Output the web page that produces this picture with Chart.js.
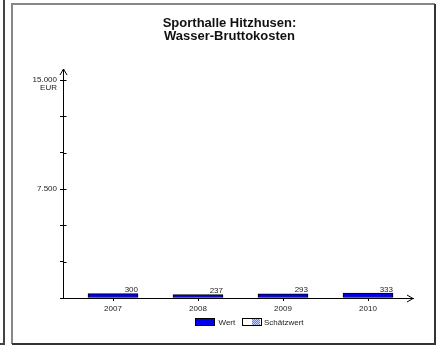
<!DOCTYPE html>
<html>
<head>
<meta charset="utf-8">
<script src="https://cdn.jsdelivr.net/npm/chart.js@4"></script>
<style>
  html, body { margin: 0; padding: 0; background: #fff; }
  canvas { display: block; }
</style>
</head>
<body>
<canvas id="chart" width="437" height="345"></canvas>
<script>
// Daten
const categories = ["2007", "2008", "2009", "2010"];
const values = [300, 237, 293, 333];
const yTicks = [0, 2500, 5000, 7500, 10000, 12500, 15000];
const yLabelled = [7500, 15000];
const yUnit = "EUR";
const titleLines = ["Sporthalle Hitzhusen:", "Wasser-Bruttokosten"];
const legendLabels = ["Wert", "Schätzwert"];

const FONT = '"Liberation Sans", Arial, sans-serif';
const BLUE = "#0000ee";

// deutsche Tausenderpunkte
const fmt = (n) => String(n).replace(/\B(?=(\d{3})+(?!\d))/g, ".");

// Rahmen, Pfeile, Titel, Werte und Legende
const extras = {
  id: "extras",
  beforeDraw(chart) {
    const ctx = chart.ctx;
    ctx.save();
    ctx.fillStyle = "#fff";
    ctx.fillRect(0, 0, chart.width, chart.height);
    ctx.restore();
  },
  afterDraw(chart) {
    const ctx = chart.ctx;
    const { left, right, top, bottom } = chart.chartArea;
    const y = chart.scales.y;
    ctx.save();

    // Rahmen links (Nachbarbox) und eigener Rahmen
    ctx.lineWidth = 2;
    ctx.strokeStyle = "#444";
    ctx.beginPath();
    ctx.moveTo(4, 0); ctx.lineTo(4, 344); ctx.lineTo(0, 344);
    ctx.stroke();
    ctx.strokeStyle = "#888";
    ctx.beginPath();
    ctx.moveTo(12, 344); ctx.lineTo(12, 4); ctx.lineTo(435, 4);
    ctx.stroke();
    ctx.strokeStyle = "#333";
    ctx.beginPath();
    ctx.moveTo(435, 4); ctx.lineTo(435, 344); ctx.lineTo(12, 344);
    ctx.stroke();

    // innere Tickstriche der y-Achse
    ctx.lineWidth = 1;
    ctx.strokeStyle = "#000";
    ctx.beginPath();
    yTicks.forEach((v) => {
      if (v === 0) return;
      const py = Math.round(y.getPixelForValue(v)) + 0.5;
      ctx.moveTo(left, py); ctx.lineTo(left + 3.5, py);
    });
    // y-Achse verlaengern + Pfeil
    const ax = Math.round(left) + 0.5;
    ctx.moveTo(ax, top); ctx.lineTo(ax, top - 11);
    ctx.moveTo(ax - 3.5, top - 5); ctx.lineTo(ax, top - 11); ctx.lineTo(ax + 3.5, top - 5);
    // Pfeil x-Achse
    const by = Math.round(bottom) + 0.5;
    ctx.moveTo(right - 6, by - 3.5); ctx.lineTo(right, by); ctx.lineTo(right - 6, by + 3.5);
    ctx.stroke();

    // Einheit
    ctx.fillStyle = "#222";
    ctx.font = "8px " + FONT;
    ctx.textAlign = "right";
    ctx.textBaseline = "middle";
    ctx.fillText(yUnit, left - 6, y.getPixelForValue(15000) + 8);

    // Werte ueber den Balken
    const meta = chart.getDatasetMeta(0);
    ctx.textBaseline = "alphabetic";
    meta.data.forEach((bar, i) => {
      ctx.fillText(fmt(values[i]), bar.x + bar.width / 2, bar.y - 1.5);
    });

    // Titel
    ctx.fillStyle = "#111";
    ctx.font = "bold 13px " + FONT;
    ctx.textAlign = "center";
    ctx.fillText(titleLines[0], 229.5, 27);
    ctx.fillText(titleLines[1], 229.5, 40);

    // Legende
    ctx.lineWidth = 1;
    ctx.fillStyle = BLUE;
    ctx.fillRect(196, 319, 18, 6);
    ctx.strokeStyle = "#000";
    ctx.strokeRect(195.5, 318.5, 19, 7);
    ctx.fillStyle = "#fff";
    ctx.fillRect(243, 319, 18, 6);
    // Schraffur im Schaetzwert-Kaestchen
    for (let px = 252; px < 260; px++) {
      for (let py = 319; py < 325; py++) {
        ctx.fillStyle = (px + py) % 2 ? "#6a7cf0" : "#c8d0ff";
        ctx.fillRect(px, py, 1, 1);
      }
    }
    ctx.strokeRect(242.5, 318.5, 19, 7);
    ctx.fillStyle = "#222";
    ctx.font = "8px " + FONT;
    ctx.textAlign = "left";
    ctx.textBaseline = "middle";
    ctx.fillText(legendLabels[0], 218.5, 322.5);
    ctx.fillText(legendLabels[1], 264, 322.5);

    ctx.restore();
  },
};

Chart.defaults.font.family = FONT;
Chart.defaults.font.size = 8;
Chart.defaults.color = "#222";

const ctx = document.getElementById("chart").getContext("2d");
const chart = new Chart(ctx, {
  type: "bar",
  data: {
    datasets: [
      {
        label: legendLabels[0],
        data: values.map((v, i) => ({ x: i, y: v })),
        backgroundColor: BLUE,
        borderColor: "#000",
        borderWidth: 1,
        borderSkipped: false,
        barThickness: 50,
      },
    ],
  },
  options: {
    responsive: false,
    animation: false,
    events: [],
    layout: { padding: { left: 13, right: 24, top: 80, bottom: 27 } },
    plugins: {
      legend: { display: false },
      title: { display: false },
      tooltip: { enabled: false },
    },
    scales: {
      x: {
        type: "linear",
        offset: false,
        min: -50 / 85,
        max: 3 + 45 / 85,
        afterBuildTicks: (scale) => {
          scale.ticks = categories.map((c, i) => ({ value: i }));
        },
        afterFit: (scale) => { scale.height = 20; },
        ticks: {
          callback: (value) => categories[value],
          maxRotation: 0,
          padding: 3,
          color: "#222",
        },
        grid: { offset: false, drawOnChartArea: false, tickLength: 3, color: "#000" },
        border: { display: true, color: "#000", width: 1 },
      },
      y: {
        min: 0,
        max: 15000,
        afterBuildTicks: (scale) => {
          scale.ticks = yTicks.map((v) => ({ value: v }));
        },
        afterFit: (scale) => { scale.width = 50; },
        ticks: {
          callback: (value) => (yLabelled.includes(value) ? fmt(value) : ""),
          padding: 3,
          color: "#222",
        },
        grid: { drawOnChartArea: false, tickLength: 3, color: "#000" },
        border: { display: true, color: "#000", width: 1 },
      },
    },
  },
  plugins: [extras],
});
</script>
</body>
</html>
